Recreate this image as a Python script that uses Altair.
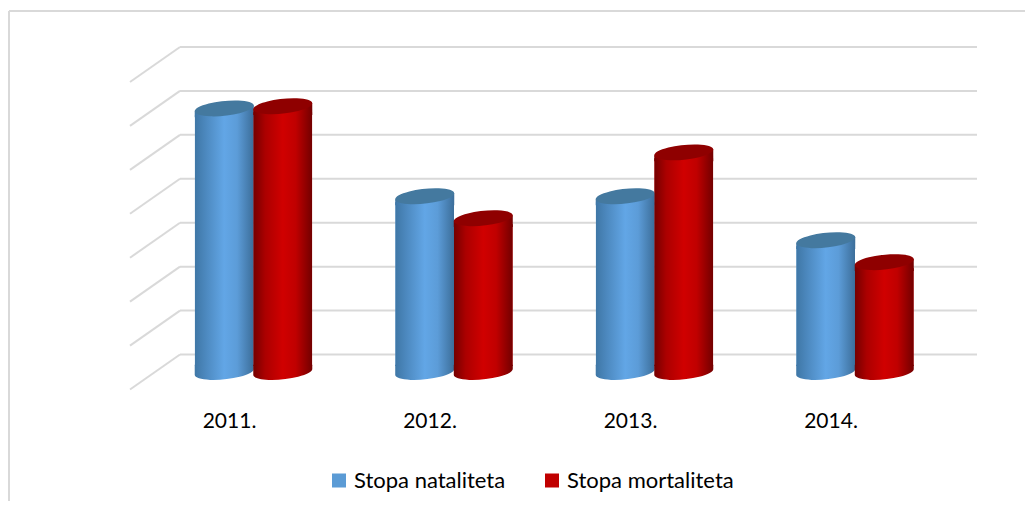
import altair as alt
import pandas as pd

years = ["2011.", "2012.", "2013.", "2014."]
natalitet = [11.0, 10.6, 10.6, 10.4]
mortalitet = [11.01, 10.5, 10.8, 10.3]
tick_values = [9.8, 10, 10.2, 10.4, 10.6, 10.8, 11, 11.2]
series_names = ["Stopa nataliteta", "Stopa mortaliteta"]

FONT = "Lato"
W, H = 802, 307.5
LEFT, TOP = 145.25, 56.5
BASE = 9.8

rows = []
for name, vals in zip(series_names, [natalitet, mortalitet]):
    for yr, v in zip(years, vals):
        rows.append({"year": yr, "series": name, "value": v, "base": BASE})
df = pd.DataFrame(rows)
ticks = pd.DataFrame({"t": tick_values})

x = alt.X("year:N", sort=years, title=None,
          scale=alt.Scale(paddingInner=0.416, paddingOuter=0.208),
          axis=alt.Axis(domain=False, ticks=False, labelAngle=0, labelFontSize=21, labelFont=FONT,
                        labelColor="#000000", labelPadding=38, labelOffset=-24, grid=False))
xo = alt.XOffset("series:N", sort=series_names, scale=alt.Scale(paddingInner=0, paddingOuter=0))
yscale = alt.Scale(domain=[9.8, 11.2], nice=False, zero=False)
y_nolab = alt.Y("value:Q", scale=yscale, axis=None)
y_base = alt.Y("base:Q", scale=yscale, axis=None)

GRID = "#D9D9D9"
wall = alt.Chart(ticks).mark_rule(color=GRID, strokeWidth=2, yOffset=-17.5, y2Offset=-17.5).encode(
    x=alt.value(26.75), x2=alt.value(823.75),
    y=alt.Y("t:Q", scale=yscale, axis=None), y2="t:Q")
diag = alt.Chart(ticks).mark_rule(color=GRID, strokeWidth=2, yOffset=17.5, y2Offset=-17.5).encode(
    x=alt.value(-23.25), x2=alt.value(26.75),
    y=alt.Y("t:Q", scale=yscale, axis=None), y2="t:Q")
# the value axis hangs on an invisible tick layer of its own
axis_layer = alt.Chart(ticks).mark_point(opacity=0).encode(
    y=alt.Y("t:Q", scale=yscale, title=None,
            axis=alt.Axis(values=tick_values, domain=False, ticks=False, grid=False, labelFontSize=21,
                          labelFont=FONT, labelColor="#595959", labelPadding=46, labelOffset=20,
                          orient="left",
                          labelExpr="replace(format(datum.value, '~g'), '.', ',')")))

frame_top = alt.Chart(ticks.head(1)).mark_rule(color=GRID, strokeWidth=2).encode(
    x=alt.value(-LEFT + 1), x2=alt.value(1034), y=alt.value(-TOP + 3))
frame_left = alt.Chart(ticks.head(1)).mark_rule(color=GRID, strokeWidth=2).encode(
    x=alt.value(-LEFT + 1), y=alt.value(-TOP + 3), y2=alt.value(480))


def grad(stops):
    return alt.Gradient(gradient="linear", x1=0, x2=1, y1=0, y2=0,
                        stops=[alt.GradientStop(offset=o, color=c) for o, c in stops])


blue = grad([(0, "#3F77A6"), (0.18, "#4C88BE"), (0.5, "#62A6E6"), (0.72, "#5C9CD8"), (1, "#3C6E9A")])
red = grad([(0, "#750000"), (0.2, "#AB0000"), (0.5, "#D00000"), (0.72, "#C00000"), (1, "#730000")])
TOP_COLOR = {"Stopa nataliteta": "#44799F", "Stopa mortaliteta": "#8F0000"}

# tilted ellipse lid, and the pieces that join the straight bar to its tilted rim
LID = "M-1,0.105 A1.0055,0.25 -6 1 1 1,-0.105 A1.0055,0.25 -6 1 1 -1,0.105 Z"
UPPER_JOIN = "M-1,0.105 L-1,0.3 L1,0.3 L1,-0.105 Z"
LOWER_CAP = "M-1,-0.25 L-1,0.105 A1.0055,0.25 -6 1 0 1,-0.105 L1,-0.25 Z"
SIZE = 59 ** 2
INSET = 6

base_bars = alt.Chart(df).mark_bar(width=alt.RelativeBandSize(band=1), yOffset=INSET, y2Offset=-INSET).encode(
    x=x, xOffset=xo, y=y_nolab, y2="base:Q",
    color=alt.Color("series:N", sort=series_names, title=None,
                    scale=alt.Scale(domain=series_names, range=["#5B9BD5", "#C00000"]),
                    legend=alt.Legend(orient="none", legendX=174.75, legendY=405, direction="horizontal",
                                      columns=2, symbolType="square", symbolSize=196, symbolStrokeWidth=0,
                                      labelFont=FONT, labelFontSize=22, labelColor="#000000", labelLimit=300,
                                      labelOffset=4, columnPadding=35, title=None)))


def cylinder(name, gradient):
    d = alt.Chart(df).transform_filter(alt.datum.series == name)
    common = dict(size=SIZE, filled=True, opacity=1, strokeWidth=0)
    body = d.mark_bar(fill=gradient, width=alt.RelativeBandSize(band=1), yOffset=INSET, y2Offset=-INSET).encode(
        x=x, xOffset=xo, y=y_nolab, y2="base:Q")
    bottom = d.mark_point(shape=LOWER_CAP, fill=gradient, **common).encode(x=x, xOffset=xo, y=y_base)
    join = d.mark_point(shape=UPPER_JOIN, fill=gradient, **common).encode(x=x, xOffset=xo, y=y_nolab)
    top = d.mark_point(shape=LID, fill=TOP_COLOR[name], **common).encode(x=x, xOffset=xo, y=y_nolab)
    return [bottom, body, join, top]


layers = [axis_layer, wall, diag, frame_top, frame_left, base_bars]
for nm, g in zip(series_names, [blue, red]):
    layers += cylinder(nm, g)

chart = alt.layer(*layers).properties(
    width=W, height=H,
    autosize="none",
    padding={"left": LEFT, "top": TOP, "right": 70, "bottom": 129},
    background="white",
).configure_view(stroke=None)

chart.save("out.html", embed_options={"renderer": "svg", "actions": False})
